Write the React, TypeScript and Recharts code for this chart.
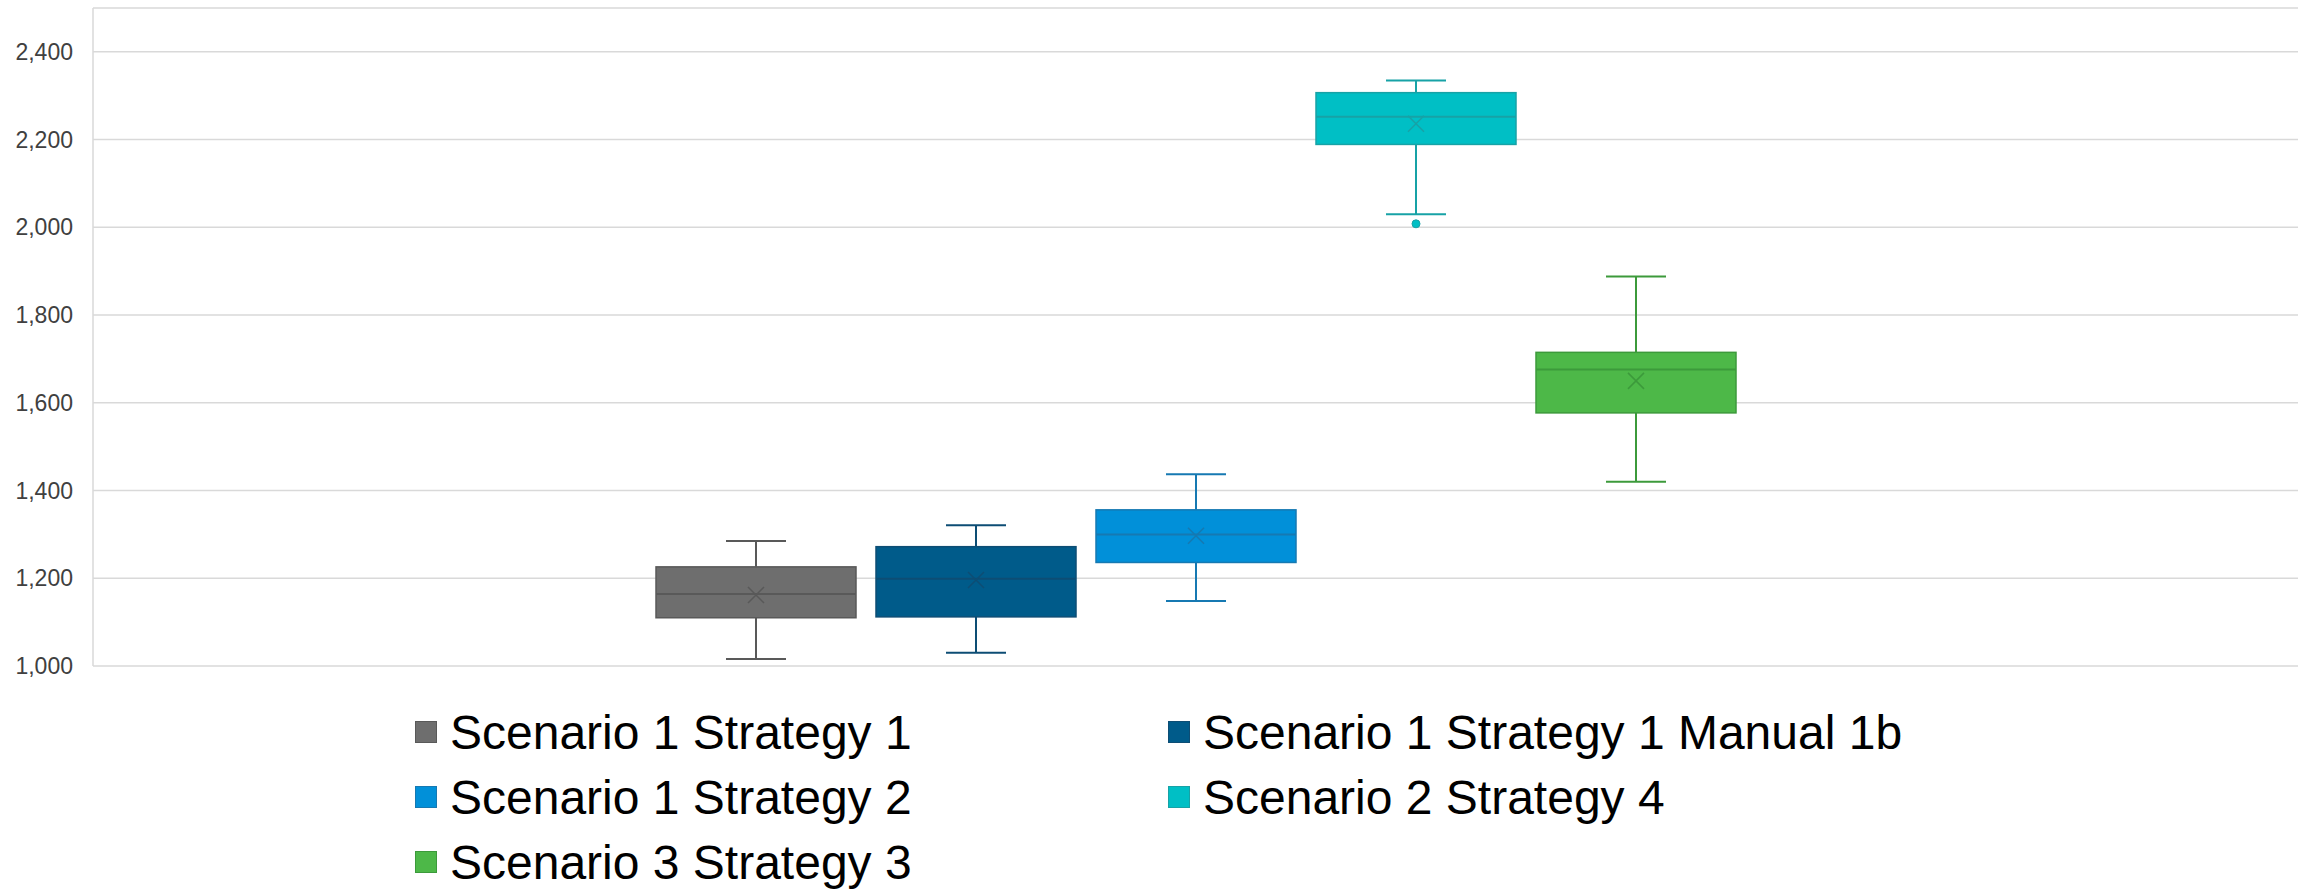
import { BarChart, Bar, XAxis, YAxis, CartesianGrid } from "recharts"

// five series, one category — Excel-style box & whisker
const seriesNames = [
  "Scenario 1 Strategy 1",
  "Scenario 1 Strategy 1 Manual 1b",
  "Scenario 1 Strategy 2",
  "Scenario 2 Strategy 4",
  "Scenario 3 Strategy 3",
]
const mins = [1016, 1030, 1148, 2030, 1420]
const q1s = [1110, 1112, 1236, 2189, 1577]
const medians = [1164, 1199, 1300, 2252, 1676]
const q3s = [1226, 1272, 1356, 2307, 1715]
const maxs = [1285, 1321, 1437, 2335, 1888]
const means = [1162, 1196, 1297, 2236, 1650]
const outliers: number[][] = [[], [], [], [2008], []]

const yTicks = [1000, 1200, 1400, 1600, 1800, 2000, 2200, 2400]

const fills = ["#6e6e6e", "#005b8a", "#0190d9", "#00bfc5", "#4db848"]
const strokes = ["#595959", "#0d4d74", "#1679b2", "#17a2a6", "#3c9a3b"]

const keys = seriesNames.map((_, i) => "s" + i)
const row: Record<string, any> = { name: "" }
keys.forEach((k, i) => {
  row[k] = [mins[i], maxs[i]]
})
const data = [row]

const fmt = (v: number) => v.toLocaleString("en-US")

function makeBox(i: number) {
  return (props: any) => {
    const { x, y, width, height } = props
    const lo = mins[i]
    const hi = maxs[i]
    // map value -> pixel using the bar's own scaled extent
    const py = (v: number) => y + ((hi - v) / (hi - lo)) * height
    const cx = x + width / 2
    const cap = 30
    const yq3 = py(q3s[i])
    const yq1 = py(q1s[i])
    const ym = py(medians[i])
    const ymean = py(means[i])
    const s = strokes[i]
    return (
      <g>
        <line x1={cx} x2={cx} y1={py(hi)} y2={yq3} stroke={s} strokeWidth={2} />
        <line x1={cx} x2={cx} y1={yq1} y2={py(lo)} stroke={s} strokeWidth={2} />
        <line x1={cx - cap} x2={cx + cap} y1={py(hi)} y2={py(hi)} stroke={s} strokeWidth={2} />
        <line x1={cx - cap} x2={cx + cap} y1={py(lo)} y2={py(lo)} stroke={s} strokeWidth={2} />
        <rect x={x} y={yq3} width={width} height={yq1 - yq3} fill={fills[i]} stroke={s} strokeWidth={1.5} />
        <line x1={x} x2={x + width} y1={ym} y2={ym} stroke={s} strokeWidth={2} />
        <path
          d={`M${cx - 8},${ymean - 8}L${cx + 8},${ymean + 8}M${cx + 8},${ymean - 8}L${cx - 8},${ymean + 8}`}
          stroke={s}
          strokeWidth={1.5}
        />
        {outliers[i].map((o, j) => (
          <circle key={j} cx={cx} cy={py(o)} r={4} fill={fills[i]} stroke={s} strokeWidth={1} />
        ))}
      </g>
    )
  }
}

function LegendBox() {
  const pos = [
    { left: 415, top: 732 },
    { left: 1168, top: 732 },
    { left: 415, top: 797 },
    { left: 1168, top: 797 },
    { left: 415, top: 862 },
  ]
  return (
    <>
      {seriesNames.map((n, i) => (
        <div
          key={n}
          style={{
            position: "absolute",
            left: pos[i].left,
            top: pos[i].top - 30,
            height: 60,
            display: "flex",
            alignItems: "center",
            whiteSpace: "nowrap",
            fontFamily: "'Liberation Sans', Arial, sans-serif",
            fontSize: 48,
            color: "#000",
          }}
        >
          <span
            style={{
              display: "inline-block",
              width: 20,
              height: 20,
              background: fills[i],
              border: `1px solid ${strokes[i]}`,
              marginRight: 13,
            }}
          />
          {n}
        </div>
      ))}
    </>
  )
}

export default function App() {
  return (
    <div style={{ position: "relative", width: 2310, height: 893, background: "#fff" }}>
      <style>{"body{margin:0}"}</style>
      <BarChart
        width={2310}
        height={893}
        data={data}
        margin={{ top: 8, right: 12, left: 0, bottom: 227 }}
        barSize={200}
        barGap={20}
      >
        <CartesianGrid vertical={false} stroke="#d9d9d9" strokeWidth={1.5} />
        <XAxis dataKey="name" hide />
        <YAxis
          width={93}
          domain={[1000, 2500]}
          ticks={yTicks}
          allowDataOverflow
          tickFormatter={fmt}
          tickLine={false}
          tickSize={0}
          tickMargin={20}
          axisLine={{ stroke: "#d9d9d9", strokeWidth: 1.5 }}
          tick={{ fontSize: 23, fill: "#404040", fontFamily: "'Liberation Sans', Arial, sans-serif" }}
        />
        {keys.map((k, i) => (
          <Bar key={k} dataKey={k} name={seriesNames[i]} fill={fills[i]} shape={makeBox(i)} isAnimationActive={false} />
        ))}
      </BarChart>
      <LegendBox />
    </div>
  )
}
